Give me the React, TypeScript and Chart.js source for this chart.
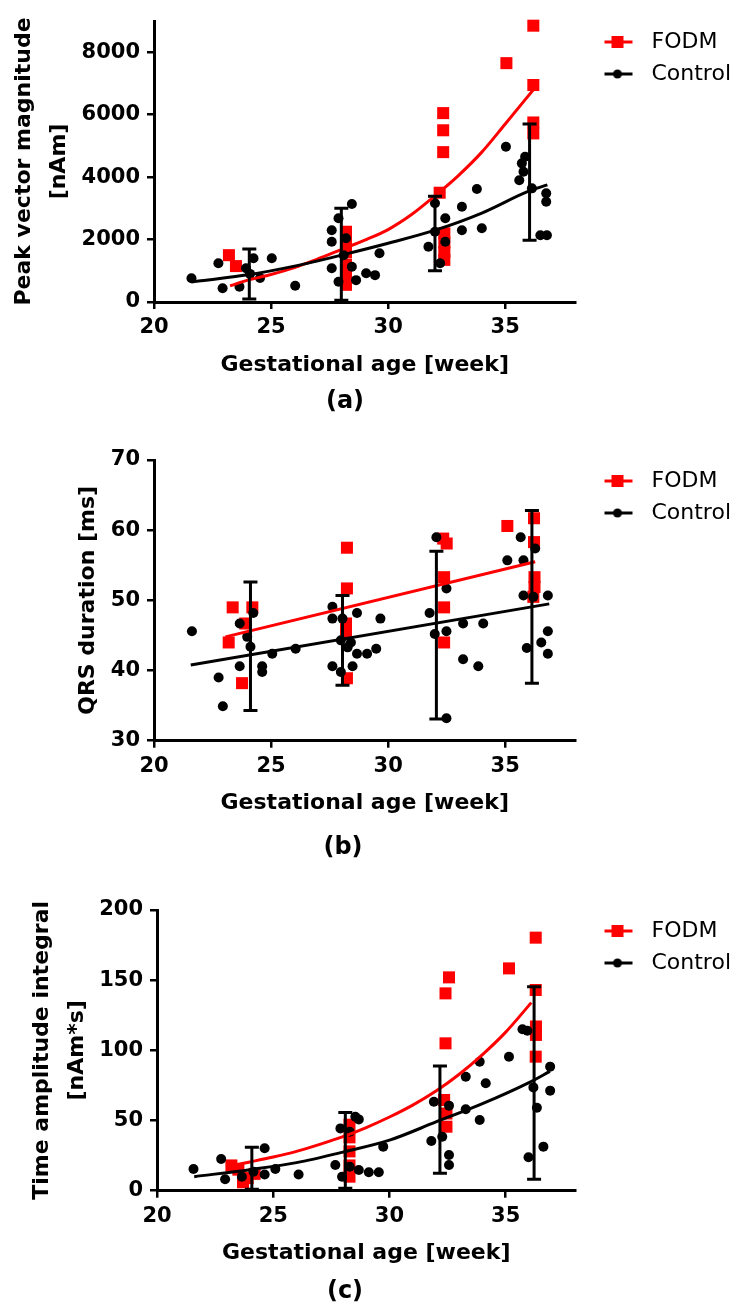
import React, { useEffect, useRef } from 'react';
import { Chart, registerables } from 'chart.js';

Chart.register(...registerables);

const FONT = '"DejaVu Sans", sans-serif';
const RED = '#ff0000';
const BLACK = '#000000';

// ---------- shared axis ----------
const X_MIN = 20;
const X_MAX = 38;
const X_TICKS = [20, 25, 30, 35];
const X_TITLE = 'Gestational age [week]';
const LEGEND_LABELS = ['FODM', 'Control'];

// ---------- panel (a): peak vector magnitude ----------
const A_Y_TICKS = [0, 2000, 4000, 6000, 8000];
const A_FODM_X = [23.2, 23.5, 28.2, 28.2, 28.2, 28.2, 28.2, 28.2, 32.35, 32.35, 32.35, 32.2, 32.4, 32.4, 32.4, 32.4, 35.05, 36.2, 36.2, 36.2, 36.2];
const A_FODM_Y = [1500, 1150, 2250, 1950, 1600, 1200, 850, 550, 6050, 5500, 4800, 3500, 2200, 1900, 1600, 1350, 7650, 8850, 6950, 5750, 5400];
const A_CTRL_X = [21.6, 22.75, 22.93, 23.65, 23.93, 24.25, 24.53, 25.03, 26.03, 27.59, 27.59, 27.88, 28.45, 28.2, 27.59, 27.88, 28.45, 28.63, 29.06, 29.44, 29.63, 28.1, 31.72, 32.0, 32.44, 32.44, 32.22, 33.15, 33.15, 33.79, 34.0, 35.03, 35.6, 35.71, 35.85, 35.78, 36.14, 36.75, 36.75, 36.5, 36.78, 24.1, 32.0];
const A_CTRL_Y = [760, 1240, 440, 490, 1080, 1400, 770, 1400, 520, 2300, 1930, 2680, 3140, 2040, 1080, 650, 1130, 700, 920, 860, 1560, 1500, 1770, 3160, 2680, 1930, 1240, 3050, 2300, 3620, 2360, 4970, 3900, 4440, 4650, 4170, 3640, 3480, 3210, 2140, 2140, 900, 2250];
const A_FODM_FIT_X = [23.25, 24, 25, 26, 27, 28, 29, 30, 31, 32, 33, 34, 35, 36.2];
const A_FODM_FIT_Y = [520, 700, 880, 1100, 1380, 1680, 1980, 2320, 2800, 3400, 4050, 4800, 5700, 6800];
const A_CTRL_FIT_X = [21.6, 22, 24, 26, 28, 30, 32, 34, 36, 36.8];
const A_CTRL_FIT_Y = [640, 680, 870, 1150, 1500, 1880, 2300, 2850, 3550, 3750];
const A_ERR_X = [24.07, 28.0, 32.0, 36.04];
const A_ERR_LOW = [100, 60, 1000, 1980];
const A_ERR_HIGH = [1700, 3000, 3390, 5700];

// ---------- panel (b): QRS duration ----------
const B_Y_TICKS = [30, 40, 50, 60, 70];
const B_FODM_X = [23.36, 23.19, 24.2, 23.9, 23.76, 28.24, 28.24, 28.2, 28.2, 28.24, 32.35, 32.5, 32.39, 32.39, 32.39, 35.09, 36.23, 36.23, 36.25, 36.25, 36.2];
const B_FODM_Y = [49, 44, 49, 46.7, 38.2, 57.5, 51.7, 46.7, 45.2, 38.9, 58.8, 58.1, 53.3, 49, 44, 60.6, 61.7, 58.3, 53.3, 51.9, 50.5];
const B_CTRL_X = [21.62, 22.76, 22.94, 23.66, 23.66, 23.98, 24.24, 24.12, 24.62, 24.62, 25.05, 26.05, 27.62, 27.62, 28.05, 28.67, 27.62, 27.98, 28.48, 27.98, 28.41, 28.27, 28.67, 29.1, 29.49, 29.67, 32.06, 31.77, 32.49, 31.99, 32.49, 32.49, 33.2, 33.2, 33.85, 34.06, 35.09, 35.66, 35.78, 36.28, 35.78, 36.2, 36.82, 35.92, 36.54, 36.82, 36.82];
const B_CTRL_Y = [45.6, 39, 34.9, 46.7, 40.6, 44.8, 48.2, 43.4, 40.6, 39.8, 42.4, 43.1, 49.1, 47.4, 47.4, 48.2, 40.6, 39.8, 40.6, 44.3, 44, 43.3, 42.4, 42.4, 43.1, 47.4, 59, 48.2, 51.7, 45.2, 45.6, 33.2, 46.7, 41.6, 40.6, 46.7, 55.7, 59, 55.7, 57.4, 50.7, 50.5, 50.7, 43.2, 44, 45.6, 42.4];
const B_FODM_FIT_X = [23.05, 36.28];
const B_FODM_FIT_Y = [44.8, 55.5];
const B_CTRL_FIT_X = [21.57, 36.88];
const B_CTRL_FIT_Y = [40.8, 49.5];
const B_ERR_X = [24.12, 28.05, 32.06, 36.14];
const B_ERR_LOW = [34.3, 37.9, 33.1, 38.2];
const B_ERR_HIGH = [52.6, 50.7, 57.0, 62.8];

// ---------- panel (c): time amplitude integral ----------
const C_Y_TICKS = [0, 50, 100, 150, 200];
const C_FODM_X = [32.56, 32.41, 32.41, 35.14, 36.29, 36.29, 36.3, 36.3, 36.29, 32.35, 32.45, 32.45, 28.28, 28.28, 28.28, 28.28, 28.28, 23.2, 23.5, 23.9, 24.2, 23.7];
const C_FODM_Y = [152, 140.6, 105, 158.4, 180.3, 143, 117, 111, 95.5, 64.6, 55, 45.6, 47, 38, 28, 18, 10, 18, 15, 9, 12, 6];
const C_CTRL_X = [21.57, 22.76, 22.93, 23.65, 24.15, 24.63, 24.63, 25.09, 26.09, 27.89, 27.67, 27.96, 28.68, 28.53, 28.29, 28.29, 28.68, 29.11, 29.54, 29.73, 31.91, 32.56, 31.8, 32.27, 32.56, 32.56, 33.28, 33.28, 33.88, 33.88, 34.14, 35.14, 35.72, 35.93, 36.19, 36.34, 35.98, 36.62, 36.91, 36.91];
const C_CTRL_Y = [15.4, 22.6, 8.1, 10, 13.5, 30.2, 11.6, 15.4, 11.6, 44.4, 18.3, 10, 50.8, 52.7, 42, 17.1, 14.7, 13.1, 13.1, 31.4, 63.4, 60.6, 35.4, 38.5, 25.4, 18.3, 81.2, 58, 91.9, 50.4, 76.5, 95.5, 115, 114, 73.6, 59.1, 23.8, 31.4, 88.4, 71.3];
const C_FODM_FIT_X = [23.1, 24, 25, 26, 27, 28, 29, 30, 31, 32, 33, 34, 35, 36.1];
const C_FODM_FIT_Y = [17.5, 20.5, 24, 28, 33, 38.5, 45, 52.5, 61, 71, 83, 97, 113, 134];
const C_CTRL_FIT_X = [21.6, 24, 26, 28, 30, 32, 34, 36, 36.9];
const C_CTRL_FIT_Y = [10, 15, 20, 27.5, 36, 49, 62, 77, 85];
const C_ERR_X = [24.08, 28.1, 32.17, 36.22];
const C_ERR_LOW = [1, 1.7, 12.4, 8.1];
const C_ERR_HIGH = [30.9, 55.8, 88.8, 145.4];

const pts = (xs: number[], ys: number[]) => xs.map((x, i) => ({ x, y: ys[i] }));

interface PanelSpec {
  top: number;
  height: number;
  left: number;
  right: number;
  chartTop: number;
  chartBottom: number;
  yMin: number;
  yMax: number;
  yTicks: number[];
  yTitle: string | string[];
  yTitlePad: number;
  yTitleLH: number;
  xTitleOffset: number;
  label: string;
  labelX: number;
  labelY: number;
  fodm: { x: number; y: number }[];
  ctrl: { x: number; y: number }[];
  fodmFit: { x: number; y: number }[];
  ctrlFit: { x: number; y: number }[];
  err: { x: number[]; low: number[]; high: number[] };
}

const PANELS: PanelSpec[] = [
  {
    top: 0, height: 420, left: 154, right: 576, chartTop: 21, chartBottom: 302,
    yMin: 0, yMax: 9000, yTicks: A_Y_TICKS,
    yTitle: ['Peak vector magnitude', '[nAm]'], yTitlePad: 2.8, yTitleLH: 1.6,
    xTitleOffset: 63, label: '(a)', labelX: 345, labelY: 402,
    fodm: pts(A_FODM_X, A_FODM_Y), ctrl: pts(A_CTRL_X, A_CTRL_Y),
    fodmFit: pts(A_FODM_FIT_X, A_FODM_FIT_Y), ctrlFit: pts(A_CTRL_FIT_X, A_CTRL_FIT_Y),
    err: { x: A_ERR_X, low: A_ERR_LOW, high: A_ERR_HIGH },
  },
  {
    top: 420, height: 450, left: 154, right: 576, chartTop: 40, chartBottom: 320.7,
    yMin: 30, yMax: 70, yTicks: B_Y_TICKS,
    yTitle: 'QRS duration [ms]', yTitlePad: 71.2, yTitleLH: 1.2,
    xTitleOffset: 63, label: '(b)', labelX: 343, labelY: 428,
    fodm: pts(B_FODM_X, B_FODM_Y), ctrl: pts(B_CTRL_X, B_CTRL_Y),
    fodmFit: pts(B_FODM_FIT_X, B_FODM_FIT_Y), ctrlFit: pts(B_CTRL_FIT_X, B_CTRL_FIT_Y),
    err: { x: B_ERR_X, low: B_ERR_LOW, high: B_ERR_HIGH },
  },
  {
    top: 870, height: 446, left: 157, right: 578, chartTop: 40, chartBottom: 320.7,
    yMin: 0, yMax: 200, yTicks: C_Y_TICKS,
    yTitle: ['Time amplitude integral', '[nAm*s]'], yTitlePad: 20.8, yTitleLH: 1.6,
    xTitleOffset: 62.3, label: '(c)', labelX: 345, labelY: 421.7,
    fodm: pts(C_FODM_X, C_FODM_Y), ctrl: pts(C_CTRL_X, C_CTRL_Y),
    fodmFit: pts(C_FODM_FIT_X, C_FODM_FIT_Y), ctrlFit: pts(C_CTRL_FIT_X, C_CTRL_FIT_Y),
    err: { x: C_ERR_X, low: C_ERR_LOW, high: C_ERR_HIGH },
  },
];

function makeIcon(color: string, square: boolean): HTMLCanvasElement {
  const c = document.createElement('canvas');
  c.width = 55;
  c.height = 16;
  const ctx = c.getContext('2d')!;
  ctx.strokeStyle = color;
  ctx.fillStyle = color;
  ctx.lineWidth = 3;
  ctx.beginPath();
  ctx.moveTo(19, 8);
  ctx.lineTo(47, 8);
  ctx.stroke();
  if (square) {
    ctx.fillRect(26, 2, 12, 12);
  } else {
    ctx.beginPath();
    ctx.arc(32, 8, 4.5, 0, Math.PI * 2);
    ctx.fill();
  }
  return c;
}

const errorBarPlugin = {
  id: 'errorBars',
  afterDatasetsDraw(chart: any, _args: any, opts: any) {
    const { ctx } = chart;
    const xs = chart.scales.x;
    const ys = chart.scales.y;
    ctx.save();
    ctx.strokeStyle = BLACK;
    ctx.lineWidth = 3;
    (opts.x as number[]).forEach((xv, i) => {
      const px = xs.getPixelForValue(xv);
      const pl = ys.getPixelForValue(opts.low[i]);
      const ph = ys.getPixelForValue(opts.high[i]);
      ctx.beginPath();
      ctx.moveTo(px, pl);
      ctx.lineTo(px, ph);
      ctx.moveTo(px - 7, pl);
      ctx.lineTo(px + 7, pl);
      ctx.moveTo(px - 7, ph);
      ctx.lineTo(px + 7, ph);
      ctx.stroke();
    });
    ctx.restore();
  },
};

const panelLabelPlugin = {
  id: 'panelLabel',
  afterDraw(chart: any, _args: any, opts: any) {
    const { ctx } = chart;
    ctx.save();
    ctx.font = `bold 24px ${FONT}`;
    ctx.fillStyle = BLACK;
    ctx.textAlign = 'center';
    ctx.textBaseline = 'middle';
    ctx.fillText(opts.text, opts.x, opts.y);
    ctx.restore();
  },
};

function measureText(text: string, font: string) {
  const ctx = document.createElement('canvas').getContext('2d')!;
  ctx.font = font;
  return ctx.measureText(text).width;
}

function buildConfig(spec: PanelSpec): any {
  const legendFont = 22;
  const legendPad = 10;
  const boxW = 55;
  const textW = Math.max(...LEGEND_LABELS.map((t) => measureText(t, `normal ${legendFont}px ${FONT}`)));
  const legendW = legendPad + boxW + legendFont / 2 + textW + 10;
  const padLeft = 4;
  const xScaleH = spec.xTitleOffset + 13.2;
  const padRight = Math.max(0, 741 - spec.right - legendW);
  const padBottom = spec.height - spec.chartBottom - xScaleH;
  const fodmIcon = makeIcon(RED, true);
  const ctrlIcon = makeIcon(BLACK, false);

  return {
    type: 'scatter',
    data: {
      datasets: [
        {
          label: LEGEND_LABELS[1] + ' fit', data: spec.ctrlFit, showLine: true, pointRadius: 0,
          borderColor: BLACK, borderWidth: 3, order: 0, clip: false, cubicInterpolationMode: 'monotone',
        },
        {
          label: LEGEND_LABELS[0] + ' fit', data: spec.fodmFit, showLine: true, pointRadius: 0,
          borderColor: RED, borderWidth: 3, order: 1, clip: false, cubicInterpolationMode: 'monotone',
        },
        {
          label: LEGEND_LABELS[1], data: spec.ctrl, pointStyle: 'circle', pointRadius: 5,
          backgroundColor: BLACK, borderColor: BLACK, borderWidth: 0, order: 2, clip: false,
        },
        {
          label: LEGEND_LABELS[0], data: spec.fodm, pointStyle: 'rect', pointRadius: 8.5,
          backgroundColor: RED, borderColor: RED, borderWidth: 0, order: 3, clip: false,
        },
      ],
    },
    options: {
      responsive: false,
      animation: false,
      events: [],
      devicePixelRatio: 1,
      layout: { padding: { left: padLeft, right: padRight, top: spec.chartTop, bottom: padBottom } },
      scales: {
        x: {
          type: 'linear', position: 'bottom', min: X_MIN, max: X_MAX,
          afterBuildTicks: (s: any) => { s.ticks = X_TICKS.map((v) => ({ value: v })); },
          afterFit: (s: any) => { s.height = xScaleH; },
          ticks: { color: BLACK, font: { family: FONT, size: 21, weight: 'bold' }, padding: 6, callback: (v: any) => String(v), maxRotation: 0 },
          grid: { display: true, drawOnChartArea: false, drawTicks: true, tickLength: 7, color: BLACK, lineWidth: 2.5 },
          border: { display: true, color: BLACK, width: 3 },
          title: { display: true, text: X_TITLE, color: BLACK, font: { family: FONT, size: 22, weight: 'bold', lineHeight: 1.2 }, padding: { top: 0, bottom: 0 } },
        },
        y: {
          type: 'linear', position: 'left', min: spec.yMin, max: spec.yMax,
          afterBuildTicks: (s: any) => { s.ticks = spec.yTicks.map((v) => ({ value: v })); },
          afterFit: (s: any) => { s.width = spec.left - padLeft; },
          ticks: { color: BLACK, font: { family: FONT, size: 21, weight: 'bold' }, padding: 7, callback: (v: any) => String(v) },
          grid: { display: true, drawOnChartArea: false, drawTicks: true, tickLength: 7, color: BLACK, lineWidth: 2.5 },
          border: { display: true, color: BLACK, width: 3 },
          title: { display: true, text: spec.yTitle, color: BLACK, font: { family: FONT, size: 22, weight: 'bold', lineHeight: spec.yTitleLH }, padding: { top: spec.yTitlePad, bottom: 0 } },
        },
      },
      plugins: {
        legend: {
          display: true, position: 'right', align: 'start', fullSize: false,
          labels: {
            usePointStyle: true, pointStyleWidth: boxW, padding: legendPad, color: BLACK,
            font: { family: FONT, size: legendFont },
            generateLabels: () => [
              { text: LEGEND_LABELS[0], pointStyle: fodmIcon, fillStyle: RED, strokeStyle: RED, lineWidth: 0, hidden: false, datasetIndex: 3, fontColor: BLACK },
              { text: LEGEND_LABELS[1], pointStyle: ctrlIcon, fillStyle: BLACK, strokeStyle: BLACK, lineWidth: 0, hidden: false, datasetIndex: 2, fontColor: BLACK },
            ],
          },
        },
        tooltip: { enabled: false },
        title: { display: false },
        errorBars: spec.err,
        panelLabel: { text: spec.label, x: spec.labelX, y: spec.labelY },
      },
    },
    plugins: [errorBarPlugin, panelLabelPlugin],
  };
}

function Panel({ spec }: { spec: PanelSpec }) {
  const ref = useRef<HTMLCanvasElement>(null);
  useEffect(() => {
    if (!ref.current) return;
    const chart = new Chart(ref.current, buildConfig(spec));
    const ca = chart.chartArea;
    const pad = (chart.config.options as any).layout.padding;
    const dr = ca.right - spec.right;
    const dt = spec.chartTop - ca.top;
    const db = ca.bottom - spec.chartBottom;
    if (Math.abs(dr) > 0.3 || Math.abs(dt) > 0.3 || Math.abs(db) > 0.3) {
      pad.right = Math.max(0, pad.right + dr);
      pad.top = pad.top + dt;
      pad.bottom = Math.max(0, pad.bottom + db);
      chart.update();
    }
    return () => chart.destroy();
  }, [spec]);
  return (
    <canvas
      ref={ref}
      width={741}
      height={spec.height}
      style={{ position: 'absolute', left: 0, top: spec.top, width: 741, height: spec.height, display: 'block' }}
    />
  );
}

export default function App() {
  return (
    <div style={{ position: 'absolute', left: 0, top: 0, width: 741, height: 1316, background: '#fff', fontFamily: FONT }}>
      {PANELS.map((p, i) => (
        <Panel key={i} spec={p} />
      ))}
    </div>
  );
}
